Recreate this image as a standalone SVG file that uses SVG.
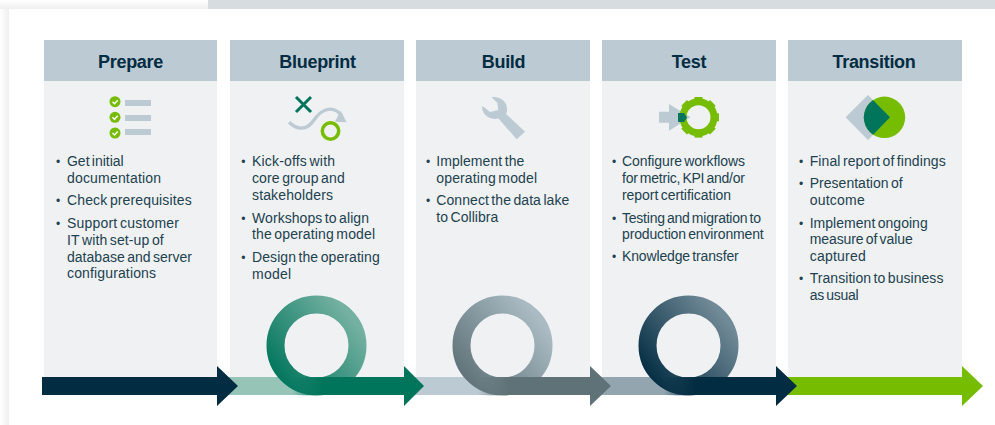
<svg xmlns="http://www.w3.org/2000/svg" width="995" height="425" viewBox="0 0 995 425">
<style>
.bg{fill:#eff1f3}.hd{fill:#bccad3}
.t{font:bold 18px "Liberation Sans",Arial,sans-serif;fill:#022c42;text-anchor:middle;letter-spacing:-.3px}
.b{font:14px "Liberation Sans",Arial,sans-serif;fill:#22414f;word-spacing:-1.5px}
.u{font:12px "Liberation Sans",Arial,sans-serif;fill:#22414f}
.g{fill:#76bc00}.s{fill:#bccad3}.d{fill:#00755c}
.ring{fill:none;stroke-width:18}
</style>
<defs>
<linearGradient id="sl" x1="0" x2="1" y1="0" y2="0"><stop offset="0" stop-color="#fff"/><stop offset="1" stop-color="#efefef"/></linearGradient>
<linearGradient id="st" x1="0" x2="0" y1="0" y2="1"><stop offset="0" stop-color="#fff"/><stop offset="1" stop-color="#efefef"/></linearGradient>
<linearGradient id="r2" gradientUnits="userSpaceOnUse" x1="290" y1="396" x2="366" y2="335"><stop offset="0" stop-color="#00755c"/><stop offset="1" stop-color="#75b1a2"/></linearGradient>
<linearGradient id="r3" gradientUnits="userSpaceOnUse" x1="476" y1="396" x2="552" y2="335"><stop offset="0" stop-color="#5f7278"/><stop offset="1" stop-color="#aabbc3"/></linearGradient>
<linearGradient id="r4" gradientUnits="userSpaceOnUse" x1="662" y1="396" x2="738" y2="335"><stop offset="0" stop-color="#022c42"/><stop offset="1" stop-color="#718a97"/></linearGradient>
<linearGradient id="a2" gradientUnits="userSpaceOnUse" x1="292" x2="322" y1="0" y2="0"><stop offset="0" stop-color="#00755c" stop-opacity="0"/><stop offset="1" stop-color="#00755c"/></linearGradient>
<linearGradient id="a3" gradientUnits="userSpaceOnUse" x1="478" x2="508" y1="0" y2="0"><stop offset="0" stop-color="#5f7278" stop-opacity="0"/><stop offset="1" stop-color="#5f7278"/></linearGradient>
<linearGradient id="a4" gradientUnits="userSpaceOnUse" x1="664" x2="694" y1="0" y2="0"><stop offset="0" stop-color="#022c42" stop-opacity="0"/><stop offset="1" stop-color="#022c42"/></linearGradient>
<clipPath id="cc"><circle cx="884.500" cy="117.300" r="20.700"/></clipPath>
</defs>
<rect width="995" height="425" fill="#fff"/>
<rect x="0" y="0" width="9" height="425" fill="url(#sl)"/>
<rect x="0" y="0" width="208" height="9" fill="url(#st)"/>
<rect x="208" y="0" width="787" height="9" fill="#d6dcdf"/>

<g id="prepare">
<rect class="bg" x="44" y="81" width="173" height="314"/><rect class="hd" x="44" y="40" width="173" height="41"/>
<text class="t" x="130.500" y="68">Prepare</text>
<g id="icon-prepare">
<circle class="g" cx="115" cy="101.700" r="5.500"/><circle class="g" cx="115" cy="117.300" r="5.500"/><circle class="g" cx="115" cy="133" r="5.500"/>
<path d="M112.500 101.700l2 2 3.200-3.500M112.500 117.300l2 2 3.200-3.500M112.500 133l2 2 3.200-3.500" fill="none" stroke="#fff" stroke-width="1.500"/>
<rect class="s" x="125" y="100" width="26" height="6"/><rect class="s" x="125" y="115" width="26" height="6"/><rect class="s" x="125" y="129" width="26" height="6"/>
</g>
<text class="u"><tspan x="55.900" y="165.500">•</tspan><tspan x="55.900" y="204.500">•</tspan><tspan x="55.900" y="227.500">•</tspan></text>
<text class="b"><tspan x="67" y="166" textLength="56.700">Get initial</tspan><tspan x="67" y="183" textLength="94">documentation</tspan><tspan x="67" y="205" textLength="124.700">Check prerequisites</tspan><tspan x="67" y="228" textLength="112">Support customer</tspan><tspan x="67" y="245" textLength="96.700">IT with set-up of</tspan><tspan x="67" y="262" textLength="125">database and server</tspan><tspan x="67" y="278" textLength="89">configurations</tspan></text>
</g>

<g id="blueprint">
<rect class="bg" x="230" y="81" width="174" height="314"/><rect class="hd" x="230" y="40" width="174" height="41"/>
<text class="t" x="317.500" y="68">Blueprint</text>
<g id="icon-blueprint">
<path d="M296 97L311 112M311 97L296 112" fill="none" stroke="#00755c" stroke-width="3"/>
<path d="M289 122.300C296 129 306 132 314 120C320 111 332 103 342 116" fill="none" stroke="#bccad3" stroke-width="3.300"/>
<path class="s" d="M346.700 122.300L340.500 110.700L335 121.700Z"/>
<circle cx="330.500" cy="131" r="8.200" fill="none" stroke="#76bc00" stroke-width="3.500"/>
</g>
<text class="u"><tspan x="241.200" y="165.500">•</tspan><tspan x="241.200" y="222.500">•</tspan><tspan x="241.200" y="261.500">•</tspan></text>
<text class="b"><tspan x="252" y="166" textLength="83">Kick-offs with</tspan><tspan x="252" y="183" textLength="92.700">core group and</tspan><tspan x="252" y="200" textLength="81">stakeholders</tspan><tspan x="252" y="223" textLength="117">Workshops to align</tspan><tspan x="252" y="239" textLength="123">the operating model</tspan><tspan x="252" y="262" textLength="127.700">Design the operating</tspan><tspan x="252" y="279" textLength="39">model</tspan></text>
</g>

<g id="build">
<rect class="bg" x="416" y="81" width="174" height="314"/><rect class="hd" x="416" y="40" width="174" height="41"/>
<text class="t" x="503.500" y="68">Build</text>
<path id="icon-build" class="s" d="M491.700 97.300C500 96 507 102 507 109C507 111 506.700 113 506 114L525 131.700L516.700 139.300L498.300 118.300C490 121 481 114 482.300 106L490 112L498.300 110L497.300 102.700Z"/>
<text class="u"><tspan x="425.900" y="165.500">•</tspan><tspan x="425.900" y="204.500">•</tspan></text>
<text class="b"><tspan x="436.300" y="166" textLength="88">Implement the</tspan><tspan x="436.300" y="183" textLength="100.700">operating model</tspan><tspan x="436.300" y="205" textLength="133">Connect the data lake</tspan><tspan x="436.300" y="222" textLength="62">to Collibra</tspan></text>
</g>

<g id="test">
<rect class="bg" x="602" y="81" width="174" height="314"/><rect class="hd" x="602" y="40" width="174" height="41"/>
<text class="t" x="689" y="68">Test</text>
<g id="icon-test">
<path class="s" d="M659 111.700H669V104L690.600 117.300L669 130.700V122.700H659Z"/>
<g transform="translate(-1 0)">
<circle cx="699.500" cy="117.300" r="15.500" fill="none" stroke="#76bc00" stroke-width="7"/>
<g class="g"><rect x="695.500" y="97" width="8" height="5"/><rect x="695.500" y="132.600" width="8" height="5"/><rect x="679" y="113.300" width="5" height="8"/><rect x="715" y="113.300" width="5" height="8"/>
<rect x="695.500" y="97" width="8" height="5" transform="rotate(45 699.500 117.300)"/><rect x="695.500" y="97" width="8" height="5" transform="rotate(135 699.500 117.300)"/><rect x="695.500" y="97" width="8" height="5" transform="rotate(225 699.500 117.300)"/><rect x="695.500" y="97" width="8" height="5" transform="rotate(315 699.500 117.300)"/></g>
<path class="d" d="M679 113H685L688 117.500L685 122H679Z"/>
</g>
</g>
<text class="u"><tspan x="611.900" y="165.500">•</tspan><tspan x="611.900" y="222.500">•</tspan><tspan x="611.900" y="260.500">•</tspan></text>
<text class="b"><tspan x="622" y="166" textLength="123">Configure workflows</tspan><tspan x="622" y="183" textLength="123">for metric, KPI and/or</tspan><tspan x="622" y="200" textLength="109">report certification</tspan><tspan x="622" y="223" textLength="139">Testing and migration to</tspan><tspan x="622" y="239" textLength="141.700">production environment</tspan><tspan x="622" y="261" textLength="116.700">Knowledge transfer</tspan></text>
</g>

<g id="transition">
<rect class="bg" x="788" y="81" width="174" height="314"/><rect class="hd" x="788" y="40" width="174" height="41"/>
<text class="t" x="874" y="68">Transition</text>
<g id="icon-transition">
<path class="s" d="M845.600 117.300L868 95L890 117.300L868 140Z"/>
<circle class="g" cx="884.500" cy="117.300" r="20.700"/>
<path class="d" clip-path="url(#cc)" d="M845.600 117.300L868 95L890 117.300L868 140Z"/>
</g>
<text class="u"><tspan x="798.900" y="165.500">•</tspan><tspan x="798.900" y="187.500">•</tspan><tspan x="798.900" y="227.500">•</tspan><tspan x="798.900" y="282.500">•</tspan></text>
<text class="b"><tspan x="809.700" y="166" textLength="136">Final report of findings</tspan><tspan x="809.700" y="188" textLength="93">Presentation of</tspan><tspan x="809.700" y="205" textLength="55">outcome</tspan><tspan x="809.700" y="228" textLength="118">Implement ongoing</tspan><tspan x="809.700" y="244" textLength="103">measure of value</tspan><tspan x="809.700" y="261" textLength="56">captured</tspan><tspan x="809.700" y="283" textLength="133.700">Transition to business</tspan><tspan x="809.700" y="300" textLength="49">as usual</tspan></text>
</g>

<g id="connectors">
<rect x="217" y="377" width="100" height="18" fill="#96c5b8"/>
<rect x="404" y="377" width="100" height="18" fill="#bccad3"/>
<rect x="590" y="377" width="100" height="18" fill="#93a6af"/>
<circle class="ring" cx="316.500" cy="345.500" r="41" stroke="url(#r2)"/>
<circle class="ring" cx="502.500" cy="345.500" r="41" stroke="url(#r3)"/>
<circle class="ring" cx="688.500" cy="345.500" r="41" stroke="url(#r4)"/>
<path fill="#022c42" d="M42 377H217V366L238 386L217 406V395H42Z"/>
<path fill="url(#a2)" d="M292 377H404V366L424 386L404 406V395H316A41 9 0 0 1 292 377Z"/>
<path fill="url(#a3)" d="M478 377H590V366L611 386L590 406V395H502A41 9 0 0 1 478 377Z"/>
<path fill="#76bc00" d="M782 377H962V366L983 386L962 406V395H782Z"/>
<path fill="url(#a4)" d="M664 377H776V366L797 386L776 406V395H688A41 9 0 0 1 664 377Z"/>
</g>
</svg>
